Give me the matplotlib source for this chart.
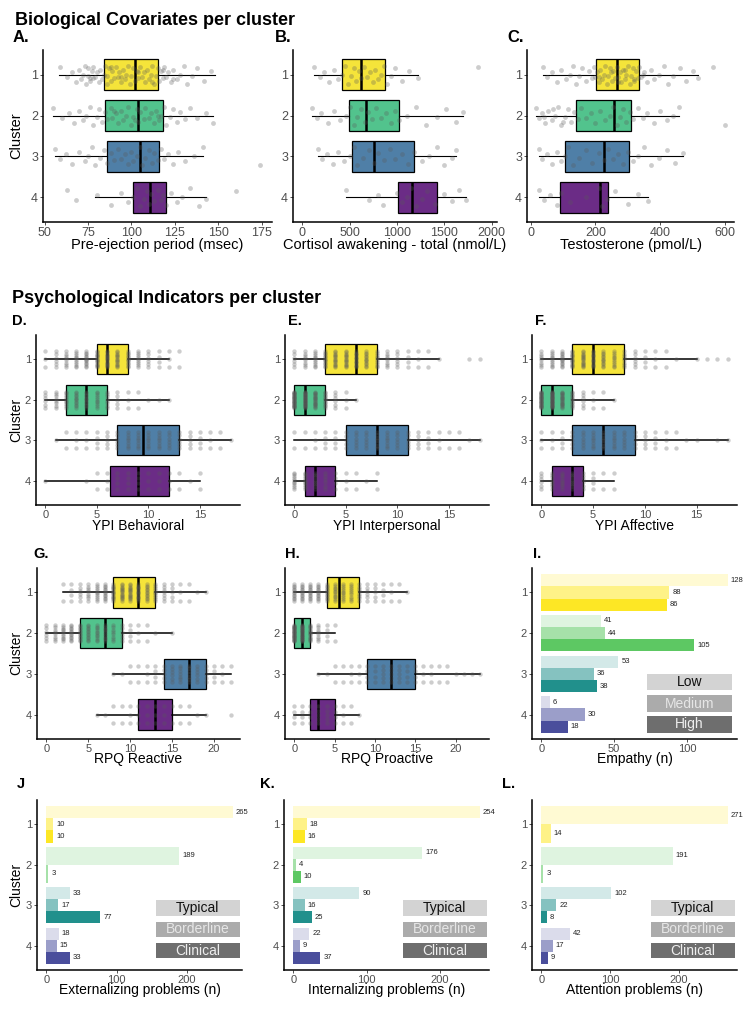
import numpy as np
import matplotlib.pyplot as plt
from matplotlib.patches import Rectangle
from matplotlib.colors import to_rgb

plt.rcParams['font.family'] = ['Liberation Sans', 'DejaVu Sans']

W, H = 748, 1023

# --- Data ---
CLUSTERS = [1, 2, 3, 4]
BOX_COLORS = ['#F5E43A', '#52C38D', '#4F7FA7', '#6B2C86']
BAR_COLORS = ['#FDE725', '#5DC863', '#21908C', '#4A4E9C']

# box summaries per cluster: (whisker low, q1, median, q3, whisker high)
pep_stats = [(58, 84, 102, 115, 148), (55, 85, 104, 118, 147), (56, 86, 105, 116, 141), (79, 101, 110.5, 120, 143)]
cort_stats = [(125, 421, 615, 875, 1218), (104, 495, 671, 1017, 1700), (167, 523, 756, 1175, 1620), (457, 1012, 1154, 1424, 1725)]
testo_stats = [(38, 202, 266, 333, 517), (18, 141, 257, 309, 459), (25, 107, 225, 304, 471), (25, 92, 215, 239, 362)]
ypi_beh_stats = [(0, 5, 6, 8, 12), (0, 2, 4, 6, 12), (1, 7, 9.5, 13, 18), (0, 6.25, 9, 12, 15)]
ypi_int_stats = [(0, 3, 6, 8, 14), (0, 0, 1, 3, 6), (0, 5, 8, 11, 18), (0, 1, 2, 4, 8)]
ypi_aff_stats = [(0, 3, 5, 8, 15), (0, 0, 1, 3, 7), (0, 3, 6, 9, 18), (0, 1, 3, 4, 7)]
rpq_re_stats = [(2, 8, 11, 13, 19), (0, 4, 7, 9, 15), (8, 14, 17, 19, 22), (6, 11, 13, 15, 19)]
rpq_pro_stats = [(0, 4, 5.5, 8, 14), (0, 0, 1, 2, 5), (3, 9, 12, 15, 23), (0, 2, 3, 5, 8)]

pep_pts = [
    [59, 63, 66, 68, 70, 71, 72, 73, 74, 75, 75, 76, 77, 78, 78, 79, 80, 81, 82, 83, 84, 85, 86, 86, 87, 88, 89, 90, 91,
     92, 93, 94, 95, 96, 97, 98, 99, 100, 101, 102, 103, 104, 105, 106, 107, 108, 109, 110, 111, 112, 113, 114, 115,
     116, 117, 118, 119, 120, 121, 123, 124, 126, 128, 130, 132, 135, 138, 142, 146, 76, 88, 94, 104, 112, 118, 124],
    [55, 60, 64, 67, 70, 72, 74, 76, 78, 80, 81, 83, 85, 86, 88, 89, 91, 92, 94, 95, 97, 98, 100, 101, 103, 104, 105,
     107, 108, 110, 111, 113, 114, 116, 117, 119, 120, 122, 124, 126, 128, 131, 134, 138, 143, 147, 90, 102, 115],
    [56, 59, 62, 66, 70, 73, 75, 77, 79, 82, 84, 86, 88, 90, 92, 94, 96, 98, 100, 101, 103, 105, 106, 108, 110, 112,
     113, 115, 117, 119, 121, 124, 127, 131, 136, 141, 174],
    [63, 68, 80, 88, 94, 98, 101, 103, 105, 107, 109, 110, 111, 113, 115, 117, 118, 120, 123, 126, 129, 134, 139, 143, 160],
]
cort_pts = [
    [125, 180, 230, 280, 330, 380, 420, 450, 480, 510, 540, 570, 600, 620, 650, 680, 710, 740, 770, 800, 830, 860,
     890, 930, 980, 1050, 1130, 1218, 1852],
    [104, 150, 200, 270, 330, 400, 460, 500, 540, 580, 620, 660, 690, 730, 780, 830, 880, 930, 980, 1020, 1100, 1200,
     1300, 1420, 1520, 1620, 1700],
    [167, 210, 260, 320, 380, 440, 500, 540, 580, 640, 700, 760, 800, 860, 920, 980, 1050, 1120, 1180, 1260, 1340,
     1420, 1500, 1580, 1620],
    [457, 700, 800, 850, 1000, 1050, 1100, 1150, 1200, 1260, 1320, 1400, 1500, 1580, 1650, 1725],
]
testo_pts = [
    [38, 50, 65, 80, 95, 110, 120, 130, 140, 150, 160, 170, 180, 188, 195, 200, 205, 210, 215, 220, 225, 230, 235, 240,
     245, 250, 255, 260, 265, 270, 275, 280, 285, 290, 295, 300, 305, 310, 315, 320, 325, 330, 335, 340, 350, 360, 370,
     380, 395, 410, 425, 440, 460, 480, 500, 517, 561, 212, 248, 268, 292, 318, 345],
    [18, 25, 35, 45, 55, 65, 75, 85, 95, 105, 115, 125, 135, 145, 155, 170, 185, 200, 215, 230, 245, 255, 265, 275, 285,
     295, 305, 315, 330, 345, 360, 380, 400, 420, 440, 459, 599, 40, 70, 100],
    [25, 35, 50, 65, 80, 95, 105, 115, 130, 150, 170, 190, 210, 225, 240, 255, 270, 285, 300, 315, 330, 350, 370, 395,
     420, 445, 471],
    [25, 40, 60, 80, 95, 120, 170, 210, 220, 235, 260, 300, 330, 362],
]

# discrete scores: number of children at score 0, 1, 2, ...
ypi_beh_counts = [
    [3, 6, 8, 10, 12, 14, 15, 14, 12, 9, 6, 4, 3, 2],
    [6, 8, 10, 12, 12, 10, 8, 5, 3, 2, 1, 1, 1],
    [0, 1, 2, 3, 3, 4, 5, 6, 7, 7, 7, 7, 6, 6, 5, 4, 3, 2, 1],
    [1, 0, 0, 0, 1, 2, 3, 4, 4, 4, 3, 3, 3, 2, 1, 2],
]
ypi_int_counts = [
    [6, 8, 10, 12, 14, 14, 13, 12, 10, 8, 6, 4, 3, 2, 1, 0, 0, 1, 1],
    [30, 28, 20, 12, 6, 3, 1],
    [2, 2, 3, 4, 4, 5, 6, 6, 7, 7, 6, 6, 5, 4, 3, 2, 2, 1, 1],
    [10, 10, 8, 6, 4, 3, 2, 1, 2],
]
ypi_aff_counts = [
    [8, 10, 12, 14, 15, 14, 12, 10, 8, 6, 4, 3, 2, 1, 0, 1, 1, 1, 1],
    [30, 30, 20, 12, 6, 3, 2, 1],
    [3, 3, 4, 5, 6, 7, 7, 7, 6, 5, 5, 4, 3, 2, 1, 1, 0, 1, 1],
    [6, 8, 8, 8, 6, 4, 2, 2],
]
rpq_re_counts = [
    [0, 0, 2, 4, 6, 8, 10, 12, 14, 15, 15, 14, 12, 10, 7, 5, 3, 2, 1, 1],
    [6, 8, 10, 12, 12, 12, 11, 10, 8, 6, 4, 3, 2, 1, 0, 1],
    [0, 0, 0, 0, 0, 0, 0, 0, 1, 1, 2, 2, 3, 4, 5, 6, 7, 7, 6, 5, 4, 3, 2],
    [0, 0, 0, 0, 0, 0, 1, 1, 2, 2, 3, 3, 3, 3, 3, 2, 2, 2, 1, 1, 0, 0, 1],
]
rpq_pro_counts = [
    [12, 12, 12, 12, 12, 11, 10, 9, 8, 6, 5, 4, 3, 2, 1],
    [30, 25, 15, 8, 4, 2],
    [0, 0, 0, 1, 1, 2, 2, 3, 3, 4, 4, 5, 5, 5, 4, 4, 3, 3, 2, 2, 1, 1, 1, 1],
    [4, 4, 4, 5, 5, 4, 3, 2, 1],
]

# counts per cluster and level (None = level absent)
empathy_levels = ['Low', 'Medium', 'High']
empathy_n = [[128, 88, 86], [41, 44, 105], [53, 36, 38], [6, 30, 18]]
problem_levels = ['Typical', 'Borderline', 'Clinical']
extern_n = [[265, 10, 10], [189, 3, None], [33, 17, 77], [18, 15, 33]]
intern_n = [[254, 18, 16], [176, 4, 10], [90, 16, 25], [22, 9, 37]]
attent_n = [[271, 14, None], [191, 3, None], [102, 22, 8], [42, 17, 9]]

JIT = [-0.18, 0.06, -0.06, 0.18, -0.12, 0.12, 0.0, -0.22, 0.22, 0.03, -0.15, 0.15, -0.09, 0.09]
LEVEL_MIX = [0.2, 0.55, 1.0]
LEGEND_FACE = ['#D3D3D3', '#ABABAB', '#6E6E6E']
LEGEND_TEXT = ['#111111', '#E6E6E6', '#EEEEEE']


def tint(color, a):
    r = np.array(to_rgb(color))
    return tuple(1 - a * (1 - r))


fig = plt.figure(figsize=(W / 100, H / 100), dpi=100)


def add_axes(x0, x1, y0, y1):
    return fig.add_axes([x0 / W, 1 - y1 / H, (x1 - x0) / W, (y1 - y0) / H])


def ftext(x, y, s, **kw):
    fig.text(x / W, 1 - y / H, s, **kw)


def style_axes(ax, xlim, xticks, tick_size):
    ax.set_xlim(*xlim)
    ax.set_ylim(4.6, 0.4)
    ax.set_yticks(CLUSTERS)
    ax.set_xticks(xticks)
    for s in ['top', 'right']:
        ax.spines[s].set_visible(False)
    for s in ['left', 'bottom']:
        ax.spines[s].set_linewidth(1.1)
    ax.tick_params(labelsize=tick_size, labelcolor='#4D4D4D', color='#333333',
                   length=2, width=0.6, pad=1.5)


def box_panel(rect, stats, xlim, xticks, pts=None, counts=None, tick_size=8, wlw=1.1):
    ax = add_axes(*rect)
    bstats = [dict(whislo=s[0], q1=s[1], med=s[2], q3=s[3], whishi=s[4], fliers=[]) for s in stats]
    bp = ax.bxp(bstats, positions=CLUSTERS, widths=0.75, orientation='horizontal', patch_artist=True,
                showcaps=False, showfliers=False,
                boxprops=dict(edgecolor='black', linewidth=0.9),
                whiskerprops=dict(color='black', linewidth=wlw),
                medianprops=dict(color='black', linewidth=1.8))
    for patch, col in zip(bp['boxes'], BOX_COLORS):
        patch.set_facecolor(col)
    for i, c in enumerate(CLUSTERS):
        if pts is not None:
            xs = np.array(pts[i], dtype=float)
            ys = c + np.array([JIT[k % len(JIT)] for k in range(len(xs))])
            size = 12
        else:
            xs, ys = [], []
            for v, n in enumerate(counts[i]):
                offs = np.linspace(-0.2, 0.2, n) if n > 1 else [0.0] * n
                xs += [v] * n
                ys += [c + o for o in offs]
            size = 10
        ax.scatter(xs, ys, s=size, color='#5A5A5A', alpha=0.3, linewidths=0, zorder=4)
    style_axes(ax, xlim, xticks, tick_size)
    return ax


def bar_panel(rect, values, levels, xticks, legend_y, legend_x=(0.58, 0.99)):
    ax = add_axes(*rect)
    vmax = max(v for row in values for v in row if v is not None)
    for i, c in enumerate(CLUSTERS):
        present = [k for k, v in enumerate(values[i]) if v is not None]
        h = 0.9 / len(present)
        for j, k in enumerate(present):
            y = c - 0.45 + h * (j + 0.5)
            v = values[i][k]
            ax.barh(y, v, height=h, color=tint(BAR_COLORS[i], LEVEL_MIX[k]), zorder=2)
            ax.text(v + vmax * 0.015, y, str(v), fontsize=5.5, color='#222222', va='center', ha='left')
    style_axes(ax, (-0.05 * vmax, 1.05 * vmax), xticks, 8)
    for k, lab in enumerate(levels):
        y0, y1 = legend_y[k]
        ax.add_patch(Rectangle((legend_x[0], y0), legend_x[1] - legend_x[0], y1 - y0,
                               transform=ax.transAxes, facecolor=LEGEND_FACE[k], edgecolor='none', zorder=5))
        ax.text((legend_x[0] + legend_x[1]) / 2, (y0 + y1) / 2, lab, transform=ax.transAxes,
                ha='center', va='center', fontsize=10, color=LEGEND_TEXT[k], zorder=6)
    return ax


# --- Section 1: biological covariates ---
ftext(15, 25, 'Biological Covariates per cluster', fontsize=13, fontweight='bold')
rects1 = [(43, 272, 50, 222), (293, 497, 50, 222), (527, 734, 50, 222)]
box_panel(rects1[0], pep_stats, (49, 181), [50, 75, 100, 125, 150, 175], pts=pep_pts, tick_size=9, wlw=0.8)
box_panel(rects1[1], cort_stats, (-100, 2055), [0, 500, 1000, 1500, 2000], pts=cort_pts, tick_size=9, wlw=0.8)
box_panel(rects1[2], testo_stats, (-11, 627), [0, 200, 400, 600], pts=testo_pts, tick_size=9, wlw=0.8)
xlabels1 = ['Pre-ejection period (msec)', 'Cortisol awakening - total (nmol/L)', 'Testosterone (pmol/L)']
for r, lab, pl, px in zip(rects1, xlabels1, ['A.', 'B.', 'C.'], [13, 275, 507]):
    ftext((r[0] + r[1]) / 2, 249, lab, fontsize=10.5, ha='center', va='baseline')
    ftext(px, 42, pl, fontsize=12, fontweight='bold')
ftext(16, 136, 'Cluster', fontsize=10.5, rotation=90, ha='center', va='center')

# --- Section 2: psychological indicators ---
ftext(12, 303, 'Psychological Indicators per cluster', fontsize=13, fontweight='bold')
rects2 = [(36, 240, 335, 505), (285, 489, 335, 505), (532, 737, 335, 505)]
box_panel(rects2[0], ypi_beh_stats, (-0.9, 18.9), [0, 5, 10, 15], counts=ypi_beh_counts)
box_panel(rects2[1], ypi_int_stats, (-0.9, 18.9), [0, 5, 10, 15], counts=ypi_int_counts)
box_panel(rects2[2], ypi_aff_stats, (-0.9, 18.9), [0, 5, 10, 15], counts=ypi_aff_counts)
for r, lab, pl, px in zip(rects2, ['YPI Behavioral', 'YPI Interpersonal', 'YPI Affective'],
                          ['D.', 'E.', 'F.'], [12, 288, 535]):
    ftext((r[0] + r[1]) / 2, 530, lab, fontsize=10, ha='center', va='baseline')
    ftext(px, 325, pl, fontsize=10.5, fontweight='bold')
ftext(16, 420, 'Cluster', fontsize=10, rotation=90, ha='center', va='center')

rects3 = [(37, 240, 568, 739), (285, 489, 568, 739), (532, 737, 568, 739)]
box_panel(rects3[0], rpq_re_stats, (-1.1, 23.1), [0, 5, 10, 15, 20], counts=rpq_re_counts)
box_panel(rects3[1], rpq_pro_stats, (-1.15, 24.15), [0, 5, 10, 15, 20], counts=rpq_pro_counts)
bar_panel(rects3[2], empathy_n, empathy_levels, [0, 50, 100],
          [(0.287, 0.38), (0.158, 0.257), (0.035, 0.135)], legend_x=(0.56, 0.978))
for r, lab, pl, px in zip(rects3, ['RPQ Reactive', 'RPQ Proactive', 'Empathy (n)'],
                          ['G.', 'H.', 'I.'], [33, 285, 533]):
    ftext((r[0] + r[1]) / 2, 763, lab, fontsize=10, ha='center', va='baseline')
    ftext(px, 558, pl, fontsize=10.5, fontweight='bold')
ftext(16, 653, 'Cluster', fontsize=10, rotation=90, ha='center', va='center')

rects4 = [(37, 242, 800, 970), (284, 489, 800, 970), (532, 737, 800, 970)]
leg_y = [(0.315, 0.41), (0.195, 0.285), (0.068, 0.16)]
bar_panel(rects4[0], extern_n, problem_levels, [0, 100, 200], leg_y)
bar_panel(rects4[1], intern_n, problem_levels, [0, 100, 200], leg_y)
bar_panel(rects4[2], attent_n, problem_levels, [0, 100, 200], leg_y)
for r, lab, pl, px in zip(rects4, ['Externalizing problems (n)', 'Internalizing problems (n)', 'Attention problems (n)'],
                          ['J', 'K.', 'L.'], [17, 260, 502]):
    ftext((r[0] + r[1]) / 2, 994, lab, fontsize=10, ha='center', va='baseline')
    ftext(px, 788, pl, fontsize=10.5, fontweight='bold')
ftext(16, 885, 'Cluster', fontsize=10, rotation=90, ha='center', va='center')

fig.savefig('out.png', dpi=100)
